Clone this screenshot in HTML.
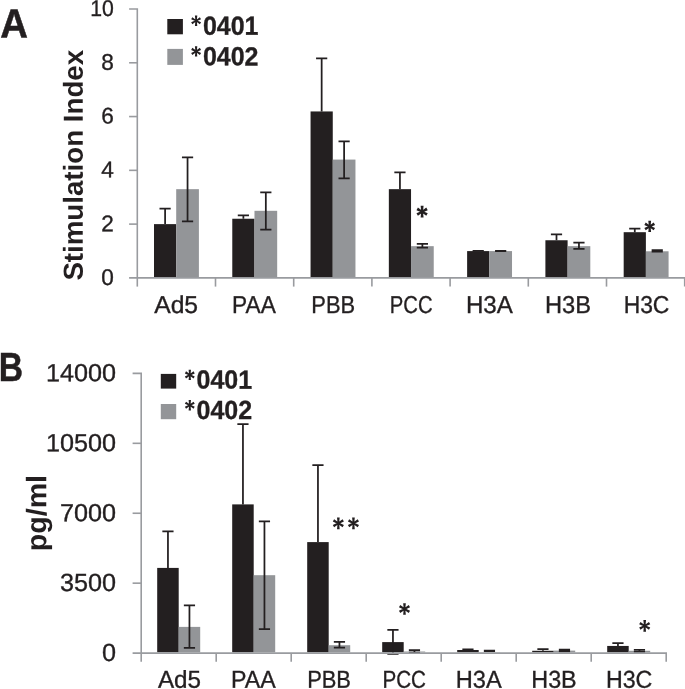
<!DOCTYPE html><html><head><meta charset="utf-8"><title>Figure</title><style>html,body{margin:0;padding:0;background:#fff;overflow:hidden}svg{display:block;will-change:transform}text{font-family:"Liberation Sans",sans-serif;fill:#231f20}</style></head><body>
<svg width="685" height="689" viewBox="0 0 685 689">
<rect width="685" height="689" fill="#fff"/>
<rect x="154.00" y="224.12" width="22.20" height="52.98" fill="#231f20"/>
<rect x="176.20" y="189.16" width="22.70" height="87.94" fill="#939598"/>
<path d="M165.10 224.12V208.52M159.50 208.52h11.2" stroke="#231f20" stroke-width="1.75" fill="none"/>
<path d="M187.55 221.30V157.43M181.95 157.43h11.2M181.95 221.30h11.2" stroke="#231f20" stroke-width="1.75" fill="none"/>
<rect x="232.28" y="218.74" width="22.20" height="58.36" fill="#231f20"/>
<rect x="254.48" y="210.81" width="22.70" height="66.29" fill="#939598"/>
<path d="M243.38 218.74V215.25M237.78 215.25h11.2" stroke="#231f20" stroke-width="1.75" fill="none"/>
<path d="M265.83 229.50V192.39M260.23 192.39h11.2M260.23 229.50h11.2" stroke="#231f20" stroke-width="1.75" fill="none"/>
<rect x="310.56" y="111.45" width="22.20" height="165.65" fill="#231f20"/>
<rect x="332.76" y="159.58" width="22.70" height="117.52" fill="#939598"/>
<path d="M321.66 111.45V58.32M316.06 58.32h11.2" stroke="#231f20" stroke-width="1.75" fill="none"/>
<path d="M344.11 178.41V141.30M338.51 141.30h11.2M338.51 178.41h11.2" stroke="#231f20" stroke-width="1.75" fill="none"/>
<rect x="388.84" y="189.16" width="22.20" height="87.94" fill="#231f20"/>
<rect x="411.04" y="246.17" width="22.70" height="30.93" fill="#939598"/>
<path d="M399.94 189.16V172.49M394.34 172.49h11.2" stroke="#231f20" stroke-width="1.75" fill="none"/>
<path d="M422.39 247.51V243.75M416.79 243.75h11.2M416.79 247.51h11.2" stroke="#231f20" stroke-width="1.75" fill="none"/>
<rect x="467.12" y="251.09" width="22.20" height="26.01" fill="#231f20"/>
<rect x="489.32" y="251.09" width="22.70" height="26.01" fill="#939598"/>
<path d="M478.22 251.09V250.79M472.62 250.79h11.2" stroke="#231f20" stroke-width="1.75" fill="none"/>
<path d="M500.67 251.17V250.96M495.07 250.96h11.2M495.07 251.17h11.2" stroke="#231f20" stroke-width="1.75" fill="none"/>
<rect x="545.40" y="240.25" width="22.20" height="36.85" fill="#231f20"/>
<rect x="567.60" y="246.17" width="22.70" height="30.93" fill="#939598"/>
<path d="M556.50 240.25V234.47M550.90 234.47h11.2" stroke="#231f20" stroke-width="1.75" fill="none"/>
<path d="M578.95 248.86V242.67M573.35 242.67h11.2M573.35 248.86h11.2" stroke="#231f20" stroke-width="1.75" fill="none"/>
<rect x="623.68" y="232.19" width="22.20" height="44.91" fill="#231f20"/>
<rect x="645.88" y="251.28" width="22.70" height="25.82" fill="#939598"/>
<path d="M634.78 232.19V228.69M629.18 228.69h11.2" stroke="#231f20" stroke-width="1.75" fill="none"/>
<path d="M657.23 251.68V250.20M651.63 250.20h11.2M651.63 251.68h11.2" stroke="#231f20" stroke-width="1.75" fill="none"/>
<path d="M129.10 9.00H137.30V277.90" fill="none" stroke="#999b9f" stroke-width="1.6"/>
<path d="M129.10 277.90H685.50" fill="none" stroke="#999b9f" stroke-width="1.6"/>
<path d="M129.10 224.12H137.30" stroke="#999b9f" stroke-width="1.6"/>
<path d="M129.10 170.34H137.30" stroke="#999b9f" stroke-width="1.6"/>
<path d="M129.10 116.56H137.30" stroke="#999b9f" stroke-width="1.6"/>
<path d="M129.10 62.78H137.30" stroke="#999b9f" stroke-width="1.6"/>
<path d="M137.30 277.90V286.60" stroke="#999b9f" stroke-width="1.6"/>
<path d="M215.50 277.90V286.60" stroke="#999b9f" stroke-width="1.6"/>
<path d="M293.70 277.90V286.60" stroke="#999b9f" stroke-width="1.6"/>
<path d="M371.90 277.90V286.60" stroke="#999b9f" stroke-width="1.6"/>
<path d="M450.10 277.90V286.60" stroke="#999b9f" stroke-width="1.6"/>
<path d="M528.30 277.90V286.60" stroke="#999b9f" stroke-width="1.6"/>
<path d="M606.50 277.90V286.60" stroke="#999b9f" stroke-width="1.6"/>
<path d="M684.70 277.90V286.60" stroke="#999b9f" stroke-width="1.6"/>
<text x="113.9" y="284.95" font-size="22.6" text-anchor="end" transform="rotate(0.05 113.9 284.95)" stroke="#231f20" stroke-width="0.35">0</text>
<text x="113.9" y="231.17" font-size="22.6" text-anchor="end" transform="rotate(0.05 113.9 231.17)" stroke="#231f20" stroke-width="0.35">2</text>
<text x="113.9" y="177.39" font-size="22.6" text-anchor="end" transform="rotate(0.05 113.9 177.39)" stroke="#231f20" stroke-width="0.35">4</text>
<text x="113.9" y="123.61" font-size="22.6" text-anchor="end" transform="rotate(0.05 113.9 123.61)" stroke="#231f20" stroke-width="0.35">6</text>
<text x="113.9" y="69.83" font-size="22.6" text-anchor="end" transform="rotate(0.05 113.9 69.83)" stroke="#231f20" stroke-width="0.35">8</text>
<text x="113.9" y="16.05" font-size="22.6" text-anchor="end" textLength="23.6" lengthAdjust="spacingAndGlyphs" transform="rotate(0.05 113.9 16.05)" stroke="#231f20" stroke-width="0.35">10</text>
<text x="154.2" y="312.9" font-size="24.4" textLength="43.92" lengthAdjust="spacingAndGlyphs" transform="rotate(0.05 154.2 312.9)" stroke="#231f20" stroke-width="0.35">Ad5</text>
<text x="232.12" y="312.9" font-size="24.4" textLength="43.68" lengthAdjust="spacingAndGlyphs" transform="rotate(0.05 232.12 312.9)" stroke="#231f20" stroke-width="0.35">PAA</text>
<text x="311.34" y="312.9" font-size="24.4" textLength="43.81" lengthAdjust="spacingAndGlyphs" transform="rotate(0.05 311.34 312.9)" stroke="#231f20" stroke-width="0.35">PBB</text>
<text x="389.85" y="312.9" font-size="24.4" textLength="42.7" lengthAdjust="spacingAndGlyphs" transform="rotate(0.05 389.85 312.9)" stroke="#231f20" stroke-width="0.35">PCC</text>
<text x="465.92" y="312.9" font-size="24.4" textLength="46.88" lengthAdjust="spacingAndGlyphs" transform="rotate(0.05 465.92 312.9)" stroke="#231f20" stroke-width="0.35">H3A</text>
<text x="544.94" y="312.9" font-size="24.4" textLength="46.02" lengthAdjust="spacingAndGlyphs" transform="rotate(0.05 544.94 312.9)" stroke="#231f20" stroke-width="0.35">H3B</text>
<text x="623.65" y="312.9" font-size="24.4" textLength="45.75" lengthAdjust="spacingAndGlyphs" transform="rotate(0.05 623.65 312.9)" stroke="#231f20" stroke-width="0.35">H3C</text>
<text x="82.7" y="280.6" font-size="27.5" font-weight="700" textLength="230.7" lengthAdjust="spacingAndGlyphs" transform="rotate(-89.95 82.7 280.6)">Stimulation Index</text>
<text x="0.3" y="37.5" font-size="40.6" font-weight="700" textLength="27.7" lengthAdjust="spacingAndGlyphs" transform="rotate(0.05 0.3 37.5)" stroke="#231f20" stroke-width="0.5">A</text>
<rect x="167.3" y="19.0" width="15.6" height="15.3" fill="#231f20"/>
<rect x="167.3" y="48.9" width="15.6" height="16.0" fill="#939598"/>
<path d="M0.80 0.00L1.32 -5.85L-1.32 -5.85L-0.80 -0.00ZM0.40 0.69L5.55 -1.68L4.23 -3.97L-0.40 -0.69ZM-0.40 0.69L4.23 3.97L5.55 1.68L0.40 -0.69ZM-0.80 0.00L-1.32 5.85L1.32 5.85L0.80 -0.00ZM-0.40 -0.69L-5.55 1.68L-4.23 3.97L0.40 0.69ZM0.40 -0.69L-4.23 -3.97L-5.55 -1.68L-0.40 0.69Z" fill="#231f20" transform="translate(196.10 20.75) scale(0.89)"/>
<text x="202.9" y="34.7" font-size="26.2" font-weight="700" textLength="55.6" lengthAdjust="spacingAndGlyphs" transform="rotate(0.05 202.9 34.7)" stroke="#231f20" stroke-width="0.35">0401</text>
<path d="M0.80 0.00L1.32 -5.85L-1.32 -5.85L-0.80 -0.00ZM0.40 0.69L5.55 -1.68L4.23 -3.97L-0.40 -0.69ZM-0.40 0.69L4.23 3.97L5.55 1.68L0.40 -0.69ZM-0.80 0.00L-1.32 5.85L1.32 5.85L0.80 -0.00ZM-0.40 -0.69L-5.55 1.68L-4.23 3.97L0.40 0.69ZM0.40 -0.69L-4.23 -3.97L-5.55 -1.68L-0.40 0.69Z" fill="#231f20" transform="translate(196.10 51.40) scale(0.89)"/>
<text x="202.9" y="65.35" font-size="26.2" font-weight="700" textLength="55.6" lengthAdjust="spacingAndGlyphs" transform="rotate(0.05 202.9 65.35)" stroke="#231f20" stroke-width="0.35">0402</text>
<path d="M0.88 0.00L1.42 -5.75L-1.42 -5.75L-0.88 -0.00ZM0.44 0.76L5.47 -1.52L4.05 -3.98L-0.44 -0.76ZM-0.44 0.76L4.05 3.98L5.47 1.52L0.44 -0.76ZM-0.88 0.00L-1.42 5.75L1.42 5.75L0.88 -0.00ZM-0.44 -0.76L-5.47 1.52L-4.05 3.98L0.44 0.76ZM0.44 -0.76L-4.05 -3.98L-5.47 -1.52L-0.44 0.76Z" fill="#231f20" transform="translate(422.10 211.70) scale(1.03)"/>
<path d="M0.88 0.00L1.42 -5.75L-1.42 -5.75L-0.88 -0.00ZM0.44 0.76L5.47 -1.52L4.05 -3.98L-0.44 -0.76ZM-0.44 0.76L4.05 3.98L5.47 1.52L0.44 -0.76ZM-0.88 0.00L-1.42 5.75L1.42 5.75L0.88 -0.00ZM-0.44 -0.76L-5.47 1.52L-4.05 3.98L0.44 0.76ZM0.44 -0.76L-4.05 -3.98L-5.47 -1.52L-0.44 0.76Z" fill="#231f20" transform="translate(649.70 226.40) scale(0.98)"/>
<rect x="157.20" y="567.91" width="21.50" height="84.39" fill="#231f20"/>
<rect x="178.70" y="626.89" width="21.50" height="25.41" fill="#939598"/>
<path d="M167.95 567.91V531.30M162.35 531.30h11.2" stroke="#231f20" stroke-width="1.75" fill="none"/>
<path d="M189.45 647.89V605.29M183.85 605.29h11.2M183.85 647.89h11.2" stroke="#231f20" stroke-width="1.75" fill="none"/>
<rect x="232.20" y="504.39" width="21.50" height="147.91" fill="#231f20"/>
<rect x="253.70" y="575.19" width="21.50" height="77.11" fill="#939598"/>
<path d="M242.95 504.39V424.09M237.35 424.09h11.2" stroke="#231f20" stroke-width="1.75" fill="none"/>
<path d="M264.45 629.24V521.49M258.85 521.49h11.2M258.85 629.24h11.2" stroke="#231f20" stroke-width="1.75" fill="none"/>
<rect x="307.20" y="542.10" width="21.50" height="110.20" fill="#231f20"/>
<rect x="328.70" y="645.21" width="21.50" height="7.09" fill="#939598"/>
<path d="M317.95 542.10V465.00M312.35 465.00h11.2" stroke="#231f20" stroke-width="1.75" fill="none"/>
<path d="M339.45 647.73V641.90M333.85 641.90h11.2M333.85 647.73h11.2" stroke="#231f20" stroke-width="1.75" fill="none"/>
<rect x="382.20" y="642.10" width="21.50" height="10.20" fill="#231f20"/>
<rect x="403.70" y="651.51" width="21.50" height="0.79" fill="#939598"/>
<path d="M392.95 653.99V629.89M387.35 629.89h11.2M387.35 653.99h11.2" stroke="#231f20" stroke-width="1.75" fill="none"/>
<path d="M414.45 652.50V650.20M408.85 650.20h11.2M408.85 652.50h11.2" stroke="#231f20" stroke-width="1.75" fill="none"/>
<rect x="457.20" y="650.00" width="21.50" height="2.30" fill="#231f20"/>
<rect x="478.70" y="652.11" width="21.50" height="0.19" fill="#939598"/>
<path d="M467.95 650.00V649.30M462.35 649.30h11.2" stroke="#231f20" stroke-width="1.75" fill="none"/>
<path d="M489.45 651.21V650.61M483.85 650.61h11.2M483.85 651.21h11.2" stroke="#231f20" stroke-width="1.75" fill="none"/>
<rect x="532.20" y="650.79" width="21.50" height="1.51" fill="#231f20"/>
<rect x="553.70" y="650.61" width="21.50" height="1.69" fill="#939598"/>
<path d="M542.95 650.79V649.20M537.35 649.20h11.2" stroke="#231f20" stroke-width="1.75" fill="none"/>
<path d="M564.45 651.41V649.70M558.85 649.70h11.2M558.85 651.41h11.2" stroke="#231f20" stroke-width="1.75" fill="none"/>
<rect x="607.20" y="645.94" width="21.50" height="6.36" fill="#231f20"/>
<rect x="628.70" y="650.79" width="21.50" height="1.51" fill="#939598"/>
<path d="M617.95 645.94V643.06M612.35 643.06h11.2" stroke="#231f20" stroke-width="1.75" fill="none"/>
<path d="M639.45 651.87V649.80M633.85 649.80h11.2M633.85 651.87h11.2" stroke="#231f20" stroke-width="1.75" fill="none"/>
<path d="M132.60 373.40H141.20V653.10" fill="none" stroke="#999b9f" stroke-width="1.6"/>
<path d="M132.60 653.10H667.00" fill="none" stroke="#999b9f" stroke-width="1.6"/>
<path d="M132.60 583.17H141.20" stroke="#999b9f" stroke-width="1.6"/>
<path d="M132.60 513.25H141.20" stroke="#999b9f" stroke-width="1.6"/>
<path d="M132.60 443.32H141.20" stroke="#999b9f" stroke-width="1.6"/>
<path d="M141.20 653.10V661.80" stroke="#999b9f" stroke-width="1.6"/>
<path d="M216.20 653.10V661.80" stroke="#999b9f" stroke-width="1.6"/>
<path d="M291.20 653.10V661.80" stroke="#999b9f" stroke-width="1.6"/>
<path d="M366.20 653.10V661.80" stroke="#999b9f" stroke-width="1.6"/>
<path d="M441.20 653.10V661.80" stroke="#999b9f" stroke-width="1.6"/>
<path d="M516.20 653.10V661.80" stroke="#999b9f" stroke-width="1.6"/>
<path d="M591.20 653.10V661.80" stroke="#999b9f" stroke-width="1.6"/>
<path d="M666.20 653.10V661.80" stroke="#999b9f" stroke-width="1.6"/>
<text x="116.0" y="661.05" font-size="24.9" text-anchor="end" textLength="14.0" lengthAdjust="spacingAndGlyphs" transform="rotate(0.05 116.0 661.05)" stroke="#231f20" stroke-width="0.35">0</text>
<text x="116.0" y="591.12" font-size="24.9" text-anchor="end" textLength="56.0" lengthAdjust="spacingAndGlyphs" transform="rotate(0.05 116.0 591.12)" stroke="#231f20" stroke-width="0.35">3500</text>
<text x="116.0" y="521.2" font-size="24.9" text-anchor="end" textLength="56.0" lengthAdjust="spacingAndGlyphs" transform="rotate(0.05 116.0 521.2)" stroke="#231f20" stroke-width="0.35">7000</text>
<text x="116.0" y="451.27" font-size="24.9" text-anchor="end" textLength="70.0" lengthAdjust="spacingAndGlyphs" transform="rotate(0.05 116.0 451.27)" stroke="#231f20" stroke-width="0.35">10500</text>
<text x="116.0" y="381.34" font-size="24.9" text-anchor="end" textLength="70.0" lengthAdjust="spacingAndGlyphs" transform="rotate(0.05 116.0 381.34)" stroke="#231f20" stroke-width="0.35">14000</text>
<text x="157.95" y="687.8" font-size="24.4" textLength="43.12" lengthAdjust="spacingAndGlyphs" transform="rotate(0.05 157.95 687.8)" stroke="#231f20" stroke-width="0.35">Ad5</text>
<text x="231.12" y="687.8" font-size="24.4" textLength="44.68" lengthAdjust="spacingAndGlyphs" transform="rotate(0.05 231.12 687.8)" stroke="#231f20" stroke-width="0.35">PAA</text>
<text x="307.14" y="687.8" font-size="24.4" textLength="43.87" lengthAdjust="spacingAndGlyphs" transform="rotate(0.05 307.14 687.8)" stroke="#231f20" stroke-width="0.35">PBB</text>
<text x="382.51" y="687.8" font-size="24.4" textLength="43.49" lengthAdjust="spacingAndGlyphs" transform="rotate(0.05 382.51 687.8)" stroke="#231f20" stroke-width="0.35">PCC</text>
<text x="455.84" y="687.8" font-size="24.4" textLength="45.92" lengthAdjust="spacingAndGlyphs" transform="rotate(0.05 455.84 687.8)" stroke="#231f20" stroke-width="0.35">H3A</text>
<text x="531.28" y="687.8" font-size="24.4" textLength="45.43" lengthAdjust="spacingAndGlyphs" transform="rotate(0.05 531.28 687.8)" stroke="#231f20" stroke-width="0.35">H3B</text>
<text x="605.95" y="687.8" font-size="24.4" textLength="46.4" lengthAdjust="spacingAndGlyphs" transform="rotate(0.05 605.95 687.8)" stroke="#231f20" stroke-width="0.35">H3C</text>
<text x="46.2" y="551.2" font-size="28.2" font-weight="700" textLength="76.2" lengthAdjust="spacingAndGlyphs" transform="rotate(-89.95 46.2 551.2)">pg/ml</text>
<text x="-1.2" y="380.9" font-size="40.6" font-weight="700" textLength="24.3" lengthAdjust="spacingAndGlyphs" transform="rotate(0.05 -1.2 380.9)" stroke="#231f20" stroke-width="0.5">B</text>
<rect x="160.8" y="373.9" width="15.4" height="14.7" fill="#231f20"/>
<rect x="160.8" y="404.0" width="15.4" height="15.2" fill="#939598"/>
<path d="M0.80 0.00L1.32 -5.85L-1.32 -5.85L-0.80 -0.00ZM0.40 0.69L5.55 -1.68L4.23 -3.97L-0.40 -0.69ZM-0.40 0.69L4.23 3.97L5.55 1.68L0.40 -0.69ZM-0.80 0.00L-1.32 5.85L1.32 5.85L0.80 -0.00ZM-0.40 -0.69L-5.55 1.68L-4.23 3.97L0.40 0.69ZM0.40 -0.69L-4.23 -3.97L-5.55 -1.68L-0.40 0.69Z" fill="#231f20" transform="translate(189.80 374.90) scale(0.89)"/>
<text x="196.5" y="388.6" font-size="26.2" font-weight="700" textLength="55.6" lengthAdjust="spacingAndGlyphs" transform="rotate(0.05 196.5 388.6)" stroke="#231f20" stroke-width="0.35">0401</text>
<path d="M0.80 0.00L1.32 -5.85L-1.32 -5.85L-0.80 -0.00ZM0.40 0.69L5.55 -1.68L4.23 -3.97L-0.40 -0.69ZM-0.40 0.69L4.23 3.97L5.55 1.68L0.40 -0.69ZM-0.80 0.00L-1.32 5.85L1.32 5.85L0.80 -0.00ZM-0.40 -0.69L-5.55 1.68L-4.23 3.97L0.40 0.69ZM0.40 -0.69L-4.23 -3.97L-5.55 -1.68L-0.40 0.69Z" fill="#231f20" transform="translate(189.80 405.20) scale(0.89)"/>
<text x="196.5" y="419.0" font-size="26.2" font-weight="700" textLength="55.6" lengthAdjust="spacingAndGlyphs" transform="rotate(0.05 196.5 419.0)" stroke="#231f20" stroke-width="0.35">0402</text>
<path d="M0.80 0.00L1.32 -5.85L-1.32 -5.85L-0.80 -0.00ZM0.40 0.69L5.55 -1.68L4.23 -3.97L-0.40 -0.69ZM-0.40 0.69L4.23 3.97L5.55 1.68L0.40 -0.69ZM-0.80 0.00L-1.32 5.85L1.32 5.85L0.80 -0.00ZM-0.40 -0.69L-5.55 1.68L-4.23 3.97L0.40 0.69ZM0.40 -0.69L-4.23 -3.97L-5.55 -1.68L-0.40 0.69Z" fill="#231f20" transform="translate(338.35 523.30) scale(1.0)"/>
<path d="M0.80 0.00L1.32 -5.85L-1.32 -5.85L-0.80 -0.00ZM0.40 0.69L5.55 -1.68L4.23 -3.97L-0.40 -0.69ZM-0.40 0.69L4.23 3.97L5.55 1.68L0.40 -0.69ZM-0.80 0.00L-1.32 5.85L1.32 5.85L0.80 -0.00ZM-0.40 -0.69L-5.55 1.68L-4.23 3.97L0.40 0.69ZM0.40 -0.69L-4.23 -3.97L-5.55 -1.68L-0.40 0.69Z" fill="#231f20" transform="translate(353.45 523.30) scale(1.0)"/>
<path d="M0.80 0.00L1.32 -5.85L-1.32 -5.85L-0.80 -0.00ZM0.40 0.69L5.55 -1.68L4.23 -3.97L-0.40 -0.69ZM-0.40 0.69L4.23 3.97L5.55 1.68L0.40 -0.69ZM-0.80 0.00L-1.32 5.85L1.32 5.85L0.80 -0.00ZM-0.40 -0.69L-5.55 1.68L-4.23 3.97L0.40 0.69ZM0.40 -0.69L-4.23 -3.97L-5.55 -1.68L-0.40 0.69Z" fill="#231f20" transform="translate(404.50 609.00) scale(1.0)"/>
<path d="M0.80 0.00L1.32 -5.85L-1.32 -5.85L-0.80 -0.00ZM0.40 0.69L5.55 -1.68L4.23 -3.97L-0.40 -0.69ZM-0.40 0.69L4.23 3.97L5.55 1.68L0.40 -0.69ZM-0.80 0.00L-1.32 5.85L1.32 5.85L0.80 -0.00ZM-0.40 -0.69L-5.55 1.68L-4.23 3.97L0.40 0.69ZM0.40 -0.69L-4.23 -3.97L-5.55 -1.68L-0.40 0.69Z" fill="#231f20" transform="translate(644.70 625.85) scale(1.0)"/>
</svg></body></html>
